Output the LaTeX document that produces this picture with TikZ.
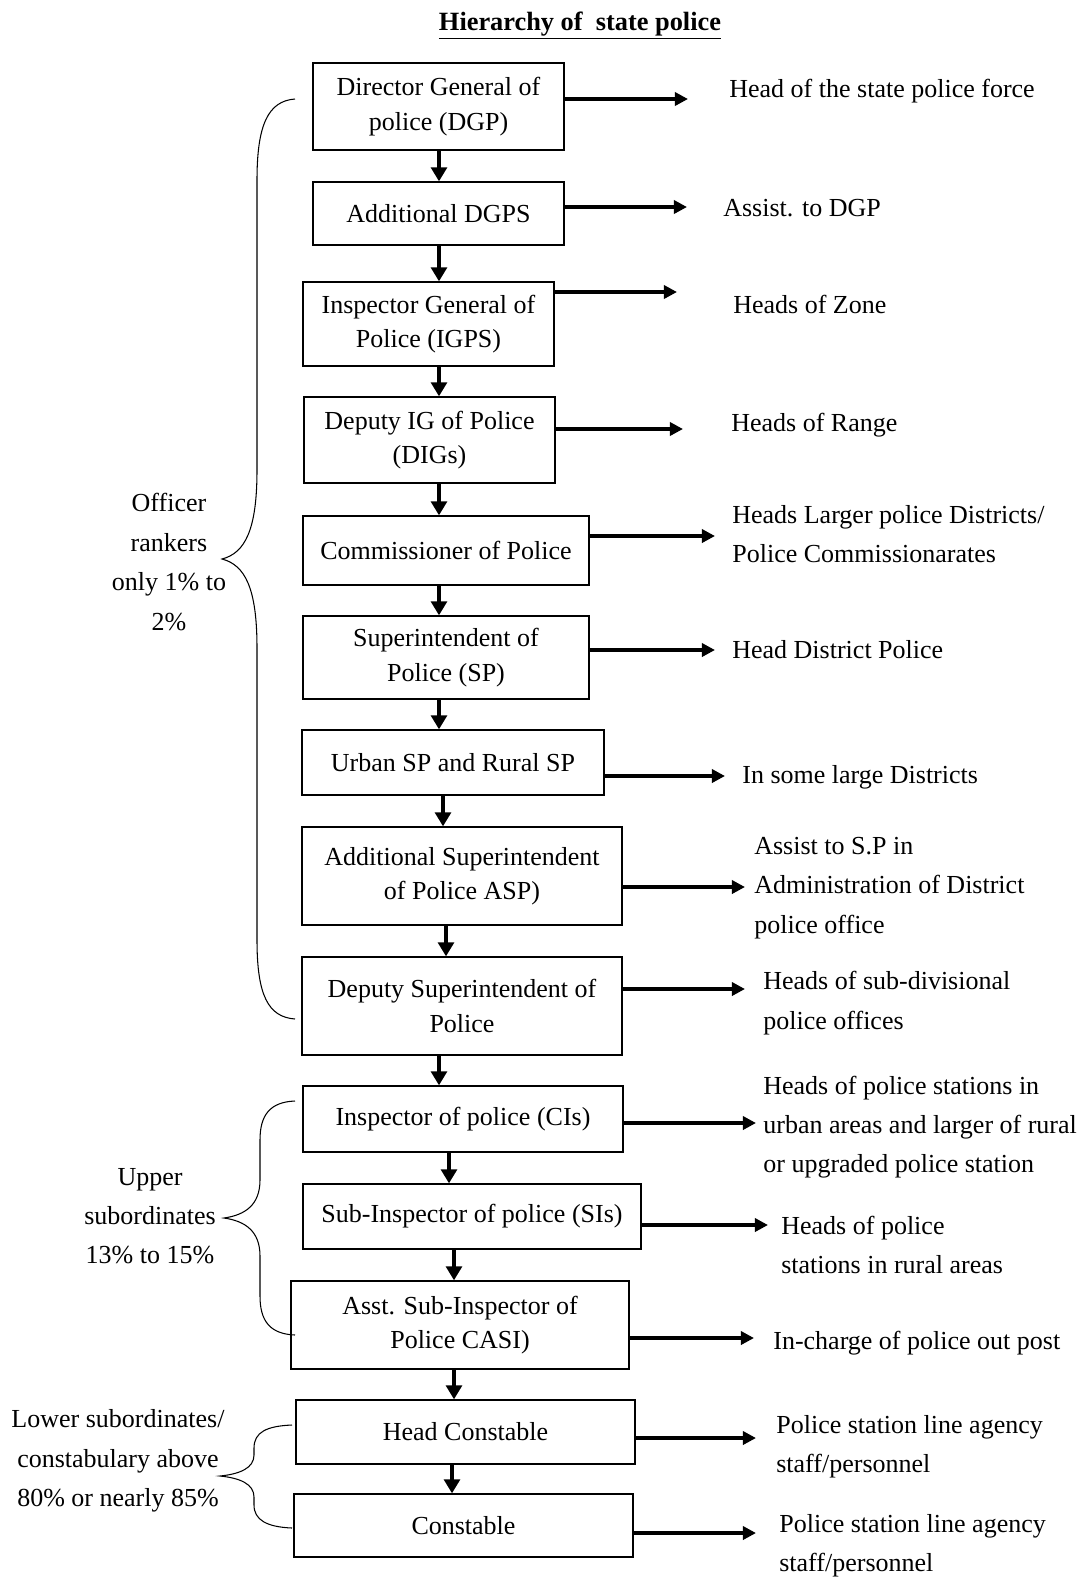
\documentclass[tikz,border=0pt]{standalone}
\usepackage{fontspec}
\setmainfont{Liberation Serif}
\usetikzlibrary{arrows.meta}

\begin{document}
\begin{tikzpicture}[x=0.02cm,y=-0.02cm,
  rank/.style={draw,line width=0.75pt,align=center,inner sep=2pt,font=\fontsize{14.8}{19.5}\selectfont},
  note/.style={anchor=west,align=left,inner sep=0pt,font=\fontsize{14.8}{22.4}\selectfont},
  group/.style={align=center,inner sep=0pt,font=\fontsize{14.8}{22.4}\selectfont},
  down/.style={line width=2.1pt,-{Triangle[length=8pt,width=9pt]}},
  side/.style={line width=1.9pt,-{Triangle[length=7.5pt,width=7.5pt]}},
  brc/.style={line width=0.6pt}]
\useasboundingbox (0,0) rectangle (1084,1580);

\node[font=\bfseries\fontsize{15}{18}\selectfont] (title) at (580,26) {\underline{Hierarchy of~ state police}}; % titulo

% cajas
\node[rank,minimum width=5.02cm,minimum height=1.74cm] (dgp) at (438.5,106.5) {Director General of\\police (DGP)};
\node[rank,minimum width=5.02cm,minimum height=1.26cm] (adgp) at (438.5,213.5) {Additional DGPS};
\node[rank,minimum width=5.02cm,minimum height=1.68cm] (igp) at (428.5,324) {Inspector General of\\Police (IGPS)};
\node[rank,minimum width=5.02cm,minimum height=1.72cm] (dig) at (429.5,440) {Deputy IG of Police\\(DIGs)};
\node[rank,minimum width=5.72cm,minimum height=1.38cm] (cop) at (446,550.5) {Commissioner of Police};
\node[rank,minimum width=5.72cm,minimum height=1.66cm] (sp) at (446,657.5) {Superintendent of\\Police (SP)};
\node[rank,minimum width=6.04cm,minimum height=1.30cm] (usp) at (453,762.5) {Urban SP and Rural SP};
\node[rank,minimum width=6.40cm,minimum height=1.96cm] (asp) at (462,876) {Additional Superintendent\\of Police ASP)};
\node[rank,minimum width=6.40cm,minimum height=1.96cm] (dsp) at (462,1006) {Deputy Superintendent of\\Police};
\node[rank,minimum width=6.40cm,minimum height=1.32cm] (ci) at (463,1119) {Inspector of police (CIs)};
\node[rank,minimum width=6.76cm,minimum height=1.30cm] (si) at (472,1216.5) {Sub-Inspector of police (SIs)};
\node[rank,minimum width=6.76cm,minimum height=1.76cm] (asi) at (460,1325) {Asst. Sub-Inspector of\\Police CASI)};
\node[rank,minimum width=6.78cm,minimum height=1.28cm] (hc) at (465.5,1432) {Head Constable};
\node[rank,minimum width=6.78cm,minimum height=1.26cm] (pc) at (463.5,1525.5) {Constable};

% flechas hacia abajo
\draw[down] (dgp.south -| 439,0) -- (adgp.north -| 439,0);
\draw[down] (adgp.south -| 439,0) -- (igp.north -| 439,0);
\draw[down] (igp.south -| 439,0) -- (dig.north -| 439,0);
\draw[down] (dig.south -| 439,0) -- (cop.north -| 439,0);
\draw[down] (cop.south -| 439,0) -- (sp.north -| 439,0);
\draw[down] (sp.south -| 439,0) -- (usp.north -| 439,0);
\draw[down] (usp.south -| 443,0) -- (asp.north -| 443,0);
\draw[down] (asp.south -| 446,0) -- (dsp.north -| 446,0);
\draw[down] (dsp.south -| 439,0) -- (ci.north -| 439,0);
\draw[down] (ci.south -| 449,0) -- (si.north -| 449,0);
\draw[down] (si.south -| 454,0) -- (asi.north -| 454,0);
\draw[down] (asi.south -| 454,0) -- (hc.north -| 454,0);
\draw[down] (hc.south -| 452,0) -- (pc.north -| 452,0);

% textos de la derecha
\node[note] (n1) at (729,91) {Head of the state police force};
\node[note] (n2) at (723,208) {Assist. to DGP};
\node[note] (n3) at (733,304) {Heads of Zone};
\node[note] (n4) at (731,425) {Heads of Range};
\node[note] (n5) at (732,534) {Heads Larger police Districts/\\Police Commissionarates};
\node[note] (n6) at (732,650) {Head District Police};
\node[note] (n7) at (742,777) {In some large Districts};
\node[note] (n8) at (754,888) {Assist to S.P in\\Administration of District\\police office};
\node[note] (n9) at (763,1003) {Heads of sub-divisional\\police offices};
\node[note] (n10) at (763,1127) {Heads of police stations in\\urban areas and larger of rural\\or upgraded police station};
\node[note] (n11) at (781,1245) {Heads of police\\stations in rural areas};
\node[note] (n12) at (773,1343) {In-charge of police out post};
\node[note] (n13) at (776,1447) {Police station line agency\\staff/personnel};
\node[note] (n14) at (779,1546) {Police station line agency\\staff/personnel};

% puntas de las flechas a la derecha
\coordinate (e1) at (688,99);
\coordinate (e2) at (687,207);
\coordinate (e3) at (677,292);
\coordinate (e4) at (683,429);
\coordinate (e5) at (715,536);
\coordinate (e6) at (715,650);
\coordinate (e7) at (725,776);
\coordinate (e8) at (745,887);
\coordinate (e9) at (745,989);
\coordinate (e10) at (756,1123);
\coordinate (e11) at (768,1225);
\coordinate (e12) at (754,1338);
\coordinate (e13) at (756,1438);
\coordinate (e14) at (756,1533);

\draw[side] (dgp.east |- e1) -- (e1);
\draw[side] (adgp.east |- e2) -- (e2);
\draw[side] (igp.east |- e3) -- (e3);
\draw[side] (dig.east |- e4) -- (e4);
\draw[side] (cop.east |- e5) -- (e5);
\draw[side] (sp.east |- e6) -- (e6);
\draw[side] (usp.east |- e7) -- (e7);
\draw[side] (asp.east |- e8) -- (e8);
\draw[side] (dsp.east |- e9) -- (e9);
\draw[side] (ci.east |- e10) -- (e10);
\draw[side] (si.east |- e11) -- (e11);
\draw[side] (asi.east |- e12) -- (e12);
\draw[side] (hc.east |- e13) -- (e13);
\draw[side] (pc.east |- e14) -- (e14);

% grupos de la izquierda
\node[group] (off) at (169,562) {Officer\\rankers\\only 1\% to\\2\%};
\node[group] (upp) at (150,1216) {Upper\\subordinates\\13\% to 15\%};
\node[group] (low) at (118,1461) {Lower subordinates/\\constabulary above\\80\% or nearly 85\%};

% llaves
\draw[brc] (295,99) .. controls (268,101) and (257,125) .. (257,180) -- (257,470) .. controls (257,530) and (245,553) .. (222,559) .. controls (245,565) and (257,588) .. (257,648) -- (257,940) .. controls (257,995) and (268,1017) .. (295,1019); % llave 1
\draw[brc] (295,1101) .. controls (270,1102) and (260,1115) .. (260,1140) -- (260,1180) .. controls (260,1205) and (245,1215) .. (224,1218) .. controls (245,1221) and (260,1231) .. (260,1256) -- (260,1296) .. controls (260,1321) and (270,1334) .. (295,1335); % llave 2
\draw[brc] (292,1425) .. controls (267,1426) and (254,1432) .. (254,1448) -- (254,1455) .. controls (254,1468) and (240,1474) .. (220,1476) .. controls (240,1478) and (254,1484) .. (254,1497) -- (254,1505) .. controls (254,1520) and (267,1527) .. (292,1528); % llave 3

\end{tikzpicture}
\end{document}
